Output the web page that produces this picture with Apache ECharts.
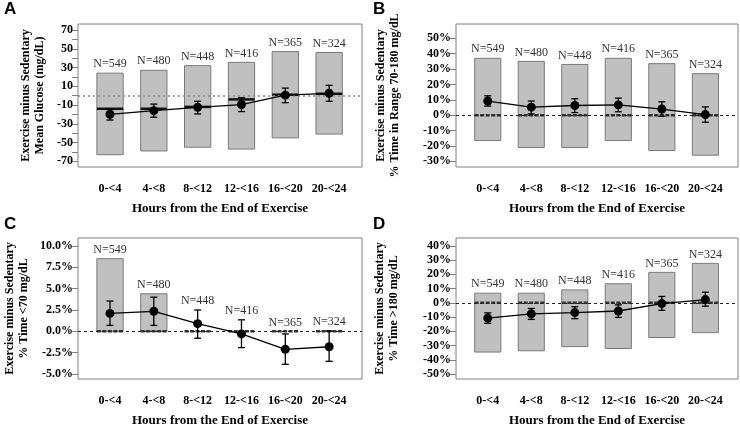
<!DOCTYPE html>
<html>
<head>
<meta charset="utf-8">
<script src="https://cdn.jsdelivr.net/npm/echarts@6/dist/echarts.min.js"></script>
<style>html,body{margin:0;padding:0;background:#fff}#c{width:740px;height:428px}</style>
</head>
<body>
<div id="c"></div>
<script>
// ---- data ----
const categories = ['0-<4', '4-<8', '8-<12', '12-<16', '16-<20', '20-<24'];
const nCounts = [549, 480, 448, 416, 365, 324];

// A: mean glucose (mg/dL)
const glucoseBoxLow  = [-63, -59, -55, -57, -45, -41];
const glucoseBoxHigh = [24, 27, 32, 35.5, 47, 46];
const glucoseMedian  = [-14, -14, -12, -4, 1, 2];
const glucoseMean    = [-20, -16, -12.5, -9.5, 0.5, 2.5];
const glucoseCiLow   = [-26, -23, -19.5, -17, -7.5, -6];
const glucoseCiHigh  = [-15, -9, -6, -2.3, 8, 11];
const glucoseTicks   = [-70, -50, -30, -10, 10, 30, 50, 70];
const glucoseMinor   = [-70, -60, -50, -40, -30, -20, -10, 0, 10, 20, 30, 40, 50, 60, 70];

// B: % time in range 70-180
const tirBoxLow  = [-16.5, -21, -21, -16.5, -23, -26];
const tirBoxHigh = [37, 35, 33, 37, 33.5, 27];
const tirMedian  = [0, 0, 0, 0, 0, 0];
const tirMean    = [9.2, 5.2, 6.3, 6.7, 4, 0.4];
const tirCiLow   = [5.9, 0.8, 1.7, 2.2, -0.7, -4.6];
const tirCiHigh  = [12.6, 9.2, 10.7, 11.1, 8.7, 5.4];
const tirTicks   = [-30, -20, -10, 0, 10, 20, 30, 40, 50];

// C: % time <70
const hypoBoxLow  = [0, 0, 0, 0, 0, 0];
const hypoBoxHigh = [8.5, 4.4, 0, 0, 0, 0];
const hypoMedian  = [0, 0, 0, 0, 0, 0];
const hypoMean    = [2.1, 2.35, 0.9, -0.3, -2.1, -1.8];
const hypoCiLow   = [0.7, 0.7, -0.8, -1.9, -3.85, -3.5];
const hypoCiHigh  = [3.55, 4.0, 2.5, 1.35, -0.3, 0.05];
const hypoTicks   = [-5, -2.5, 0, 2.5, 5, 7.5, 10];

// D: % time >180
const hyperBoxLow  = [-34.5, -33.6, -30.7, -32, -24.3, -20.9];
const hyperBoxHigh = [6.8, 6.8, 9.1, 13.4, 21.4, 27.7];
const hyperMedian  = [0, 0, 0, 0, 0, 0];
const hyperMean    = [-10.7, -7.7, -6.8, -5.7, -0.5, 2.3];
const hyperCiLow   = [-14.3, -11.6, -11.1, -10.2, -5.2, -2.3];
const hyperCiHigh  = [-7, -3.9, -2.7, -1.4, 4.5, 7.5];
const hyperTicks   = [-50, -40, -30, -20, -10, 0, 10, 20, 30, 40];

const xTitle = 'Hours from the End of Exercise';

// ---- panel layout / style ----
const SERIF = '"Liberation Serif", "Times New Roman", serif';
const HALF = 0.3;
const panels = [
  { letter: 'A', lx: 4, ly: 1, grid: { left: 78, top: 24, width: 284, height: 143 },
    yMin: -76.1, yMax: 76.4, ticks: glucoseTicks, minor: glucoseMinor, fmt: v => String(v),
    yName: 'Exercise minus Sedentary\nMean Glucose (mg/dL)', nameGap: 31,
    low: glucoseBoxLow, high: glucoseBoxHigh, med: glucoseMedian, mean: glucoseMean, ciLo: glucoseCiLow, ciHi: glucoseCiHigh,
    ref: { color: '#8a8a8a', width: 1.6, type: [2, 3] }, medDash: null },
  { letter: 'B', lx: 373, ly: 1, grid: { left: 456, top: 24, width: 282, height: 143 },
    yMin: -33.7, yMax: 59.3, ticks: tirTicks, minor: tirTicks, fmt: v => v + '%',
    yName: 'Exercise minus Sedentary\n% Time in Range 70-180 mg/dL', nameGap: 54,
    low: tirBoxLow, high: tirBoxHigh, med: tirMedian, mean: tirMean, ciLo: tirCiLow, ciHi: tirCiHigh,
    ref: { color: '#222', width: 1, type: [3, 3] }, medDash: [4, 1.5] },
  { letter: 'C', lx: 4, ly: 216, grid: { left: 78, top: 238, width: 284, height: 144 },
    yMin: -5.57, yMax: 10.92, ticks: hypoTicks, minor: hypoTicks, fmt: v => v.toFixed(1) + '%',
    yName: 'Exercise minus Sedentary\n% Time <70 mg/dL', nameGap: 47,
    low: hypoBoxLow, high: hypoBoxHigh, med: hypoMedian, mean: hypoMean, ciLo: hypoCiLow, ciHi: hypoCiHigh,
    ref: { color: '#222', width: 1, type: [3, 3] }, medDash: [4, 1.5] },
  { letter: 'D', lx: 373, ly: 216, grid: { left: 456, top: 238, width: 282, height: 144 },
    yMin: -53.4, yMax: 45.5, ticks: hyperTicks, minor: hyperTicks, fmt: v => v + '%',
    yName: 'Exercise minus Sedentary\n% Time >180 mg/dL', nameGap: 55,
    low: hyperBoxLow, high: hyperBoxHigh, med: hyperMedian, mean: hyperMean, ciLo: hyperCiLow, ciHi: hyperCiHigh,
    ref: { color: '#222', width: 1, type: [3, 3] }, medDash: [4, 1.5] }
];

const xPos = categories.map((c, i) => i + 1);

function boxRender(medDash) {
  return function (params, api) {
    const x = api.value(0), lo = api.value(1), hi = api.value(2), med = api.value(3), top = api.value(4), n = api.value(5);
    const a = api.coord([x - HALF, hi]), b = api.coord([x + HALF, lo]);
    const m1 = api.coord([x - HALF, med]), m2 = api.coord([x + HALF, med]);
    const t = api.coord([x, top]);
    const children = [];
    if (hi > lo) {
      children.push({ type: 'rect', shape: { x: a[0], y: a[1], width: b[0] - a[0], height: b[1] - a[1] },
        style: { fill: '#c0c0c0', stroke: '#7a7a7a', lineWidth: 1 } });
    }
    children.push({ type: 'line', shape: { x1: m1[0], y1: m1[1], x2: m2[0], y2: m2[1] },
      style: { stroke: medDash ? '#333' : '#111', lineWidth: 2.5, lineDash: medDash || null } });
    children.push({ type: 'text', x: t[0], y: t[1] - 3,
      style: { text: 'N=' + n, fill: '#333', font: '12px ' + SERIF, align: 'center', verticalAlign: 'bottom' } });
    return { type: 'group', children };
  };
}

function errRender(params, api) {
  const x = api.value(0), lo = api.value(1), hi = api.value(2);
  const p1 = api.coord([x, lo]), p2 = api.coord([x, hi]);
  const c = 3.5;
  const st = { stroke: '#000', lineWidth: 1.3 };
  return { type: 'group', children: [
    { type: 'line', shape: { x1: p1[0], y1: p1[1], x2: p2[0], y2: p2[1] }, style: st },
    { type: 'line', shape: { x1: p1[0] - c, y1: p1[1], x2: p1[0] + c, y2: p1[1] }, style: st },
    { type: 'line', shape: { x1: p2[0] - c, y1: p2[1], x2: p2[0] + c, y2: p2[1] }, style: st }
  ] };
}

const option = { animation: false, title: [], grid: [], xAxis: [], yAxis: [], series: [] };

panels.forEach((p, i) => {
  option.title.push({ text: p.letter, left: p.lx, top: p.ly, padding: 0,
    textStyle: { fontSize: 17, fontWeight: 'bold', color: '#000', fontFamily: '"Liberation Sans", Arial, sans-serif' } });
  option.grid.push(Object.assign({ show: true, borderColor: '#808080', borderWidth: 1, backgroundColor: 'transparent' }, p.grid));
  option.xAxis.push({ type: 'value', gridIndex: i, min: 0.27, max: 6.75,
    axisLine: { show: false }, axisTick: { show: false }, splitLine: { show: false },
    axisLabel: { customValues: xPos, margin: 16, formatter: v => categories[Math.round(v) - 1],
      fontFamily: SERIF, fontWeight: 'bold', fontSize: 12, color: '#000' },
    name: xTitle, nameLocation: 'middle', nameGap: 35,
    nameTextStyle: { fontFamily: SERIF, fontWeight: 'bold', fontSize: 13, color: '#000' } });
  option.yAxis.push({ type: 'value', gridIndex: i, min: p.yMin, max: p.yMax,
    axisLine: { show: false }, splitLine: { show: false },
    axisTick: { show: true, customValues: p.minor, length: 6, lineStyle: { color: '#808080' } },
    axisLabel: { customValues: p.ticks, margin: 5, formatter: p.fmt,
      fontFamily: SERIF, fontWeight: 'bold', fontSize: 12, color: '#000' },
    name: p.yName, nameLocation: 'middle', nameRotate: 90, nameGap: p.nameGap,
    nameTextStyle: { fontFamily: SERIF, fontWeight: 'bold', fontSize: 12, color: '#000', lineHeight: 14 } });

  const boxData = xPos.map((x, k) => [x, p.low[k], p.high[k], p.med[k], Math.max(p.high[k], p.ciHi[k]), nCounts[k]]);
  const errData = xPos.map((x, k) => [x, p.ciLo[k], p.ciHi[k]]);
  const meanData = xPos.map((x, k) => [x, p.mean[k]]);

  option.series.push({ type: 'custom', xAxisIndex: i, yAxisIndex: i, z: 2, silent: true,
    renderItem: boxRender(p.medDash), data: boxData, clip: false });
  option.series.push({ type: 'custom', xAxisIndex: i, yAxisIndex: i, z: 4, silent: true,
    renderItem: errRender, data: errData,
    markLine: { silent: true, symbol: ['none', 'none'], label: { show: false },
      lineStyle: { color: p.ref.color, width: p.ref.width, type: p.ref.type }, data: [{ yAxis: 0 }] } });
  option.series.push({ type: 'line', xAxisIndex: i, yAxisIndex: i, z: 5, silent: true,
    data: meanData, symbol: 'circle', symbolSize: 9,
    itemStyle: { color: '#000' }, lineStyle: { color: '#000', width: 1.3 } });
});

const chart = echarts.init(document.getElementById('c'), null, { renderer: 'canvas' });
chart.setOption(option);
</script>
</body>
</html>
